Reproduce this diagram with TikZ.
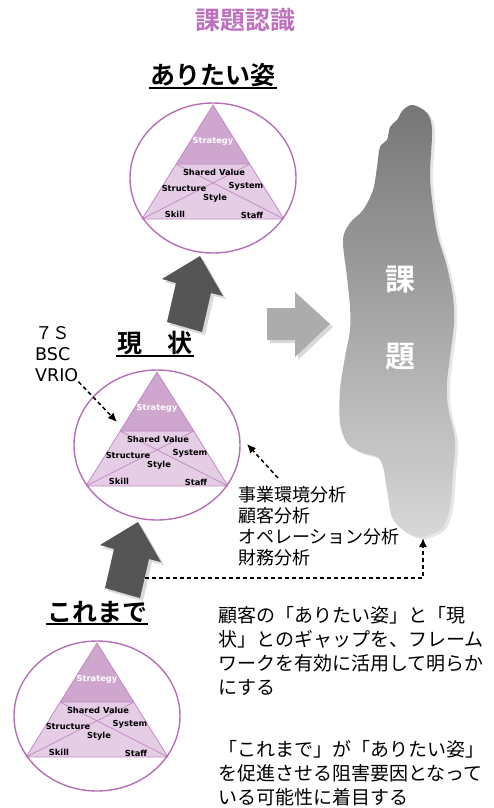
\documentclass[tikz,border=0pt]{standalone}
\usepackage{fontspec}
\usetikzlibrary{arrows.meta,calc,shadows}
\newfontfamily\jp{Noto Sans CJK JP}[BoldFont={Noto Sans CJK JP Bold}]
\newfontfamily\verd{DejaVu Sans}
\definecolor{TitleRose}{RGB}{190,112,190}
\definecolor{RingLine}{RGB}{180,112,180}
\definecolor{TopFill}{RGB}{206,166,206}
\definecolor{LowFill}{RGB}{229,206,229}
\definecolor{EdgeLine}{RGB}{196,140,196}
\definecolor{ArrowDark}{RGB}{85,85,85}
\definecolor{ArrowLight}{RGB}{172,172,172}
\definecolor{IssueTop}{RGB}{118,118,118}
\definecolor{IssueBot}{RGB}{216,216,216}

\tikzset{
	sv/.style={font=\verd\bfseries\fontsize{8.3}{9}\selectfont, inner sep=0pt},
	head/.style={font=\jp\bfseries\fontsize{25}{28}\selectfont, inner sep=1pt},
	uline/.style={line width=2.4pt},
	hint/.style={dash pattern=on 4pt off 3pt, line width=1.5pt, -{Latex[length=9pt,width=8pt]}},
	soft/.style={drop shadow={shadow xshift=3pt, shadow yshift=-3pt, opacity=0.3}},
	issue/.style={font=\jp\bfseries\fontsize{30}{32}\selectfont, text=white, inner sep=0pt},
	para/.style={anchor=north west, align=left, inner sep=0pt, font=\jp\fontsize{19}{24}\selectfont},
	% 7S triangle inside its ring, apex at the origin
	sevens/.pic={
		\fill[LowFill] (-71,114) -- (-37,59) -- (37,59) -- (71,114) -- cycle;
		\fill[TopFill] (0,0) -- (-37,59) -- (37,59) -- cycle;
		\draw[EdgeLine, line width=0.8pt] (0,0) -- (-71,114) -- (71,114) -- cycle
			(-37,59) -- (37,59) (-37,59) -- (71,114) (37,59) -- (-71,114);
		\draw[RingLine, line width=1.4pt] (0,73) ellipse [x radius=83, y radius=75];
		\node[sv, text=white] (-st) at (0,36) {Strategy};
		\node[sv] (-sh) at (1,67) {Shared Value};
		\node[sv] (-su) at (-29,83) {Structure};
		\node[sv] (-sy) at (33,81) {System};
		\node[sv] (-sl) at (2,93) {Style};
		\node[sv] (-sk) at (-38,109) {Skill};
		\node[sv] (-sf) at (39,110) {Staff};
	},
	% dark arrow pointing up, tip at the origin
	bigup/.pic={
		\fill[ArrowDark, soft] (0,0) -- (23,40) -- (11,37) -- (2,76) -- (-33,66) -- (-24,27) -- (-38,23) -- cycle;
		\coordinate (-side) at (6.6,56);
	}
}

\begin{document}
\begin{tikzpicture}[x=1pt, y=-1pt]
	\useasboundingbox (0,0) rectangle (494,808);

	\node[font=\jp\bfseries\fontsize{25}{28}\selectfont, text=TitleRose] (title) at (245,20) {課題認識};

	% the issue block on the right
	\shade[top color=IssueTop, bottom color=IssueBot, drop shadow={shadow xshift=3pt, shadow yshift=-2pt, opacity=0.2}]
		plot[smooth cycle, tension=0.55] coordinates {
		(413,105) (427,113) (432,130) (430,173) (432,200) (437,233) (447,267) (453,297)
		(454,323) (450,357) (447,383) (448,407) (455,440) (453,473) (450,507) (443,527)
		(430,535) (417,537) (403,530) (392,517) (387,490) (383,467) (377,457) (360,452)
		(347,443) (340,423) (340,390) (345,357) (350,330) (350,307) (347,277) (343,240)
		(350,223) (363,210) (373,190) (377,167) (380,147) (387,140) (390,127) (397,120) (403,110)};
	\node[issue] (ka) at (400,280) {課};
	\node[issue] (dai) at (400,357) {題};
	\coordinate (issuefoot) at (423,538);

	\fill[ArrowLight, soft] (267,308) -- (295,308) -- (295,292) -- (330,324) -- (295,357) -- (295,340) -- (267,340) -- cycle;

	% three stages
	\node[head] (want) at (213,75) {ありたい姿};
	\draw[uline] (want.south west) -- (want.south east);
	\pic (want7) at (213,105) {sevens};

	\node[head] (now) at (155,343) {現　状};
	\draw[uline] (now.south west) -- (now.south east);
	\pic (now7) at (157,372) {sevens};

	\node[head] (past) at (97,612) {これまで};
	\draw[uline] (past.south west) -- (past.south east);
	\pic (past7) at (97,643) {sevens};

	\pic (up1) at (200,256) {bigup};
	\pic (up2) at (138,522) {bigup};

	% frameworks and analyses
	\node[anchor=north west, align=left, inner sep=0pt, font=\fontsize{17.5}{21}\selectfont] (fw) at (35,326)
		{{\jp ７Ｓ}\\{\verd BSC}\\{\verd VRIO}};
	\coordinate (nowtip) at (117,422);
	\draw[hint] (fw.south east) -- (nowtip);

	\node[anchor=north west, align=left, inner sep=0pt, font=\jp\fontsize{18}{21}\selectfont] (ana) at (238,486)
		{事業環境分析\\顧客分析\\オペレーション分析\\財務分析};
	\coordinate (nowside) at (247,444);
	\draw[hint] ($(ana.north west)+(40,-8)$) -- (nowside);
	\draw[hint] (up2-side) -| (issuefoot);

	\node[para] (gap) at (218,606) {顧客の「ありたい姿」と「現\\状」とのギャップを、フレーム\\ワークを有効に活用して明らか\\にする};
	\node[para] (block) at (218,740) {「これまで」が「ありたい姿」\\を促進させる阻害要因となって\\いる可能性に着目する};
\end{tikzpicture}
\end{document}
